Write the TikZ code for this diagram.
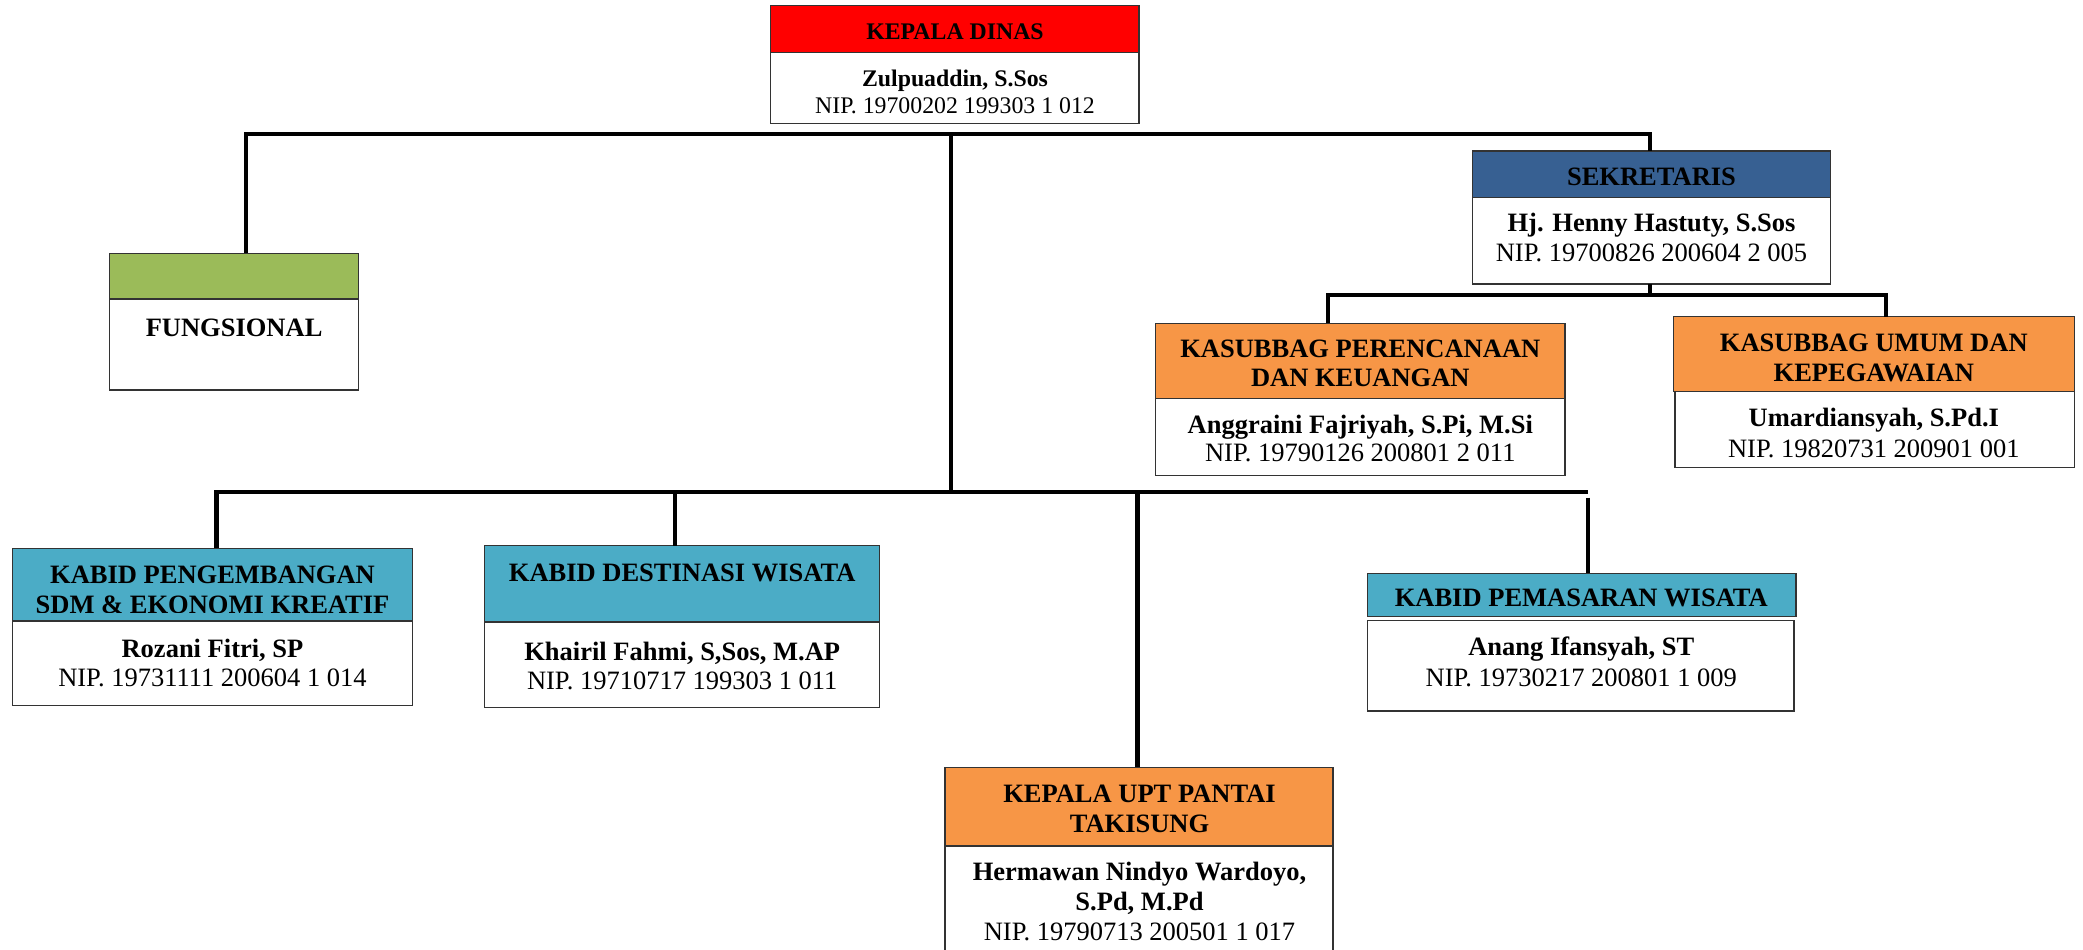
\documentclass[tikz,border=0pt]{standalone}
\usepackage{fontspec}
\setmainfont{Liberation Serif}
\definecolor{hdrred}{HTML}{FF0000}
\definecolor{hdrgreen}{HTML}{9BBB59}
\definecolor{hdrblue}{HTML}{376092}
\definecolor{hdrorange}{HTML}{F79646}
\definecolor{hdrteal}{HTML}{4BACC6}
\definecolor{rim}{HTML}{333333}
\begin{document}
\begin{tikzpicture}[x=1pt,y=-1pt,
  box/.style={draw=rim, line width=1.3pt, inner sep=0pt, outer sep=0pt, anchor=north west, fill=white},
  conn/.style={draw=black, line width=4.2pt, line join=miter},
  bt/.style={anchor=base, inner sep=0pt, font=\fontsize{26.5}{30}\selectfont\bfseries},
  rt/.style={anchor=base, inner sep=0pt, font=\fontsize{26.5}{30}\selectfont},
  btk/.style={anchor=base, inner sep=0pt, font=\fontsize{23.8}{27}\selectfont\bfseries},
  rtk/.style={anchor=base, inner sep=0pt, font=\fontsize{23.8}{27}\selectfont}]
\useasboundingbox (0,0) rectangle (2083,950);
\fill[white] (0,0) rectangle (2083,950);
\clip (0,0) rectangle (2083,950);

% ---------- KEPALA DINAS ----------
\node[box, fill=hdrred, minimum width=368.3pt, minimum height=46.6pt] (kdH) at (770.7,5.7) {};
\node[box, minimum width=368.3pt, minimum height=71.4pt] (kdB) at (770.7,52.3) {};
\node[btk] (kdT) at (955,39.3) {KEPALA DINAS};
\node[btk] (kdN) at (955,86) {Zulpuaddin, S.Sos};
\node[rtk] (kdP) at (955,113.3) {NIP. 19700202 199303 1 012};

% ---------- FUNGSIONAL ----------
\node[box, fill=hdrgreen, minimum width=249pt, minimum height=45.7pt] (fgH) at (109.6,253.3) {};
\node[box, minimum width=249pt, minimum height=91pt] (fgB) at (109.6,299) {};
\node[bt] (fgT) at (234.1,336) {FUNGSIONAL};

% ---------- SEKRETARIS ----------
\node[box, fill=hdrblue, minimum width=358.4pt, minimum height=46.3pt] (skH) at (1472.3,151) {};
\node[box, minimum width=358.4pt, minimum height=86.7pt] (skB) at (1472.3,197.3) {};
\node[bt] (skT) at (1651.5,185) {SEKRETARIS};
\node[bt] (skN) at (1651.5,231.7) {Hj. Henny Hastuty, S.Sos};
\node[rt] (skP) at (1651.5,261.7) {NIP. 19700826 200604 2 005};

% ---------- KASUBBAG PERENCANAAN ----------
\node[box, fill=hdrorange, minimum width=409.3pt, minimum height=75pt] (kpH) at (1155.7,323.3) {};
\node[box, minimum width=409.3pt, minimum height=77.4pt] (kpB) at (1155.7,398.3) {};
\node[bt] (kpT1) at (1360.3,357.7) {KASUBBAG PERENCANAAN};
\node[bt] (kpT2) at (1360.3,386.7) {DAN KEUANGAN};
\node[bt] (kpN) at (1360.3,433.3) {Anggraini Fajriyah, S.Pi, M.Si};
\node[rt] (kpP) at (1360.3,461.7) {NIP. 19790126 200801 2 011};

% ---------- KASUBBAG UMUM ----------
\node[box, fill=hdrorange, minimum width=401pt, minimum height=75pt] (kuH) at (1673.3,316.7) {};
\node[box, minimum width=399.3pt, minimum height=76pt] (kuB) at (1675,391.7) {};
\node[bt] (kuT1) at (1873.8,351.7) {KASUBBAG UMUM DAN};
\node[bt] (kuT2) at (1873.8,381.7) {KEPEGAWAIAN};
\node[bt] (kuN) at (1873.8,426.7) {Umardiansyah, S.Pd.I};
\node[rt] (kuP) at (1873.8,457.3) {NIP. 19820731 200901 001};

% ---------- KABID PENGEMBANGAN ----------
\node[box, fill=hdrteal, minimum width=400.4pt, minimum height=72.7pt] (kgH) at (12.3,548.3) {};
\node[box, minimum width=400.4pt, minimum height=84.7pt] (kgB) at (12.3,621) {};
\node[bt] (kgT1) at (212.5,583.3) {KABID PENGEMBANGAN};
\begin{scope}
\clip (12.3,548.3) rectangle (412.7,612);
\node[bt] (kgT2) at (212.5,613.3) {SDM \& EKONOMI KREATIF};
\end{scope}
\node[bt] (kgN) at (212.5,657.3) {Rozani Fitri, SP};
\node[rt] (kgP) at (212.5,686.7) {NIP. 19731111 200604 1 014};

% ---------- KABID DESTINASI ----------
\node[box, fill=hdrteal, minimum width=395pt, minimum height=76pt] (kdsH) at (484.7,545.7) {};
\node[box, minimum width=395pt, minimum height=85.7pt] (kdsB) at (484.7,622) {};
\node[bt] (kdsT) at (682.2,581.7) {KABID DESTINASI WISATA};
\node[bt] (kdsN) at (682.2,660) {Khairil Fahmi, S,Sos, M.AP};
\node[rt] (kdsP) at (682.2,689.3) {NIP. 19710717 199303 1 011};

% ---------- KEPALA UPT ----------
\node[box, fill=hdrorange, minimum width=388pt, minimum height=78.7pt] (upH) at (945,767.3) {};
\node[box, minimum width=388pt, minimum height=120pt] (upB) at (945,846) {};
\node[bt] (upT1) at (1139.5,802.7) {KEPALA UPT PANTAI};
\node[bt] (upT2) at (1139.5,832.7) {TAKISUNG};
\node[bt] (upN1) at (1139.5,880) {Hermawan Nindyo Wardoyo,};
\node[bt] (upN2) at (1139.5,910.7) {S.Pd, M.Pd};
\node[rt] (upP) at (1139.5,940) {NIP. 19790713 200501 1 017};

% ---------- KABID PEMASARAN ----------
\node[box, fill=hdrteal, minimum width=428.7pt, minimum height=43.4pt] (kmH) at (1367.3,573.3) {};
\node[box, minimum width=426.7pt, minimum height=90.3pt] (kmB) at (1367.3,620.7) {};
\node[bt] (kmT) at (1581.3,606.7) {KABID PEMASARAN WISATA};
\node[bt] (kmN) at (1581.3,655.7) {Anang Ifansyah, ST};
\node[rt] (kmP) at (1581.3,686.7) {NIP. 19730217 200801 1 009};

% ---------- connectors ----------
\coordinate (tbL) at (245.7,134.3);
\coordinate (tbC) at (951.2,134.3);
\coordinate (tbR) at (1650,134.3);
\coordinate (bbL) at (216.5,491.7);
\coordinate (bbC) at (951.2,491.7);
\coordinate (bbD) at (675,491.7);
\coordinate (bbU) at (1137.5,491.7);
\coordinate (bbR) at (1588,491.7);
\coordinate (bbRs) at (1588,497.7);
\coordinate (sbL) at (1328.3,295.3);
\coordinate (sbC) at (1650,295.3);
\coordinate (sbR) at (1885.7,295.3);

\draw[conn] (tbL |- fgH.north) -- (tbL) -- (tbR) -- (tbR |- skH.north);
\draw[conn] (tbC) -- (bbC);
\draw[conn] (bbL |- kgH.north) -- (bbL) -- (bbR);
\draw[conn] (bbD) -- (bbD |- kdsH.north);
\draw[conn] (bbU) -- (bbU |- upH.north);
\draw[conn] (bbRs) -- (bbRs |- kmH.north);
\draw[conn] (sbC |- skB.south) -- (sbC);
\draw[conn] (sbL |- kpH.north) -- (sbL) -- (sbR) -- (sbR |- kuH.north);
\end{tikzpicture}
\end{document}
